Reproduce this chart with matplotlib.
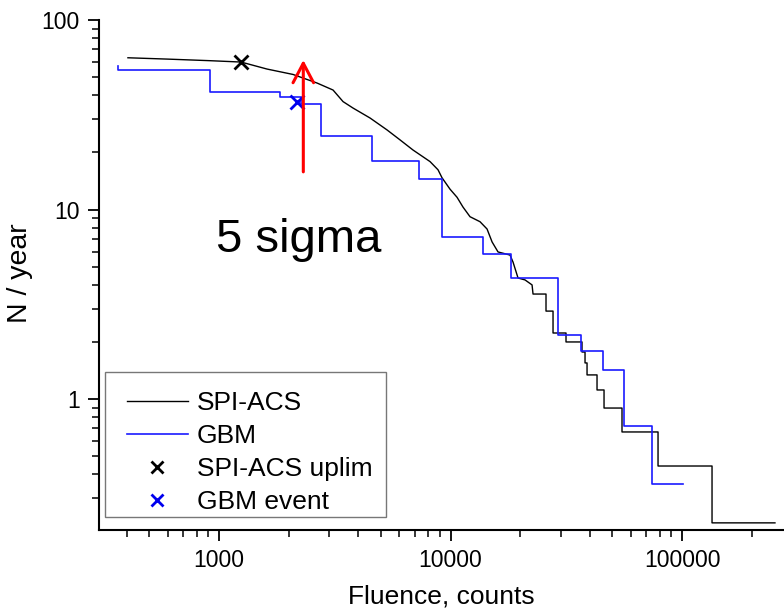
import numpy as np
import matplotlib
matplotlib.use('Agg')
import matplotlib.pyplot as plt
from matplotlib.ticker import FuncFormatter, NullFormatter, LogLocator
from matplotlib.patches import FancyArrowPatch, Rectangle
from matplotlib.lines import Line2D

plt.rcParams['font.family'] = ['Liberation Sans', 'DejaVu Sans']

# SPI-ACS cumulative rate, dense upper part
spi_fluence = [404, 596, 914, 1245, 1612, 2088, 2650, 3108, 3433, 3792, 4490, 5317,
               6051, 6886, 8156, 8831, 9190, 9950, 10670, 11320, 12140, 13410, 14380,
               15120, 16040, 18070, 18620, 19570, 20980, 22500, 22720, 25850]
spi_rate = [63.2, 62.2, 61.0, 60.0, 55.1, 51.6, 46.5, 42.7, 37.1, 34.3, 30.4, 26.3,
            23.3, 20.6, 17.9, 16.2, 14.7, 12.8, 11.6, 10.3, 9.16, 8.62, 7.89,
            6.74, 5.97, 5.75, 5.28, 4.35, 4.25, 4.00, 3.58, 3.58]

# SPI-ACS tail, individual steps
spi_tail_fluence = [25850, 27720, 31540, 36980, 38110, 38880, 42940, 46040, 55050,
                    78780, 134800, 252100]
spi_tail_rate = [2.91, 2.23, 2.00, 1.77, 1.55, 1.34, 1.116, 0.896, 0.670,
                 0.443, 0.222, 0.222]

# GBM cumulative rate (step levels)
gbm_fluence = [366, 366, 914, 1834, 2261, 2750, 4580, 7333, 9162, 13780, 18250,
               29220, 36620, 45720, 55880, 73850, 101000]
gbm_rate = [57.2, 54.5, 41.6, 39.4, 35.9, 24.4, 18.0, 14.4, 7.19, 5.79, 4.33,
            2.18, 1.80, 1.43, 0.716, 0.358, 0.358]

# single points
spi_uplim = (1245, 60.0)
gbm_event = (2172, 37.1)
arrow_x = 2312
arrow_y = (15.8, 61.5)

# build the tail staircase (steps-post) and join it to the dense part
tx = np.repeat(spi_tail_fluence, 2)[1:]
ty = np.repeat(spi_tail_rate, 2)[:-1]
spi_x = np.concatenate([spi_fluence, tx])
spi_y = np.concatenate([spi_rate, ty])

fig = plt.figure(figsize=(7.84, 6.10), dpi=100)
ax = fig.add_axes([0.1263, 0.1311, 0.8737, 0.8361])

ax.plot(spi_x, spi_y, color='black', lw=1.0)
ax.plot(gbm_fluence, gbm_rate, color='#1a1aff', lw=1.2, drawstyle='steps-post')
ax.plot(*spi_uplim, marker='x', color='black', ms=10, mew=2.0, ls='none')
ax.plot(*gbm_event, marker='x', color='#0000ee', ms=10, mew=2.0, ls='none')

arr = FancyArrowPatch((arrow_x, arrow_y[0]), (arrow_x, arrow_y[1]),
                      arrowstyle='->, head_length=0.7, head_width=0.37',
                      mutation_scale=20, color='red', lw=2.2,
                      shrinkA=0, shrinkB=0, zorder=5)
ax.add_patch(arr)

ax.text(2200, 6.9, '5 sigma', fontsize=34, ha='center', va='center')

ax.set_xscale('log')
ax.set_yscale('log')
ax.set_xlim(303, 275800)
ax.set_ylim(0.2035, 100)

for s in ['top', 'right']:
    ax.spines[s].set_visible(False)
for s in ['left', 'bottom']:
    ax.spines[s].set_linewidth(1.5)

fmt = FuncFormatter(lambda v, p: f'{v:g}')
ax.xaxis.set_major_formatter(fmt)
ax.yaxis.set_major_formatter(fmt)
ax.xaxis.set_minor_formatter(NullFormatter())
ax.yaxis.set_minor_formatter(NullFormatter())
ax.xaxis.set_minor_locator(LogLocator(base=10, subs=np.arange(2, 10)))
ax.yaxis.set_minor_locator(LogLocator(base=10, subs=np.arange(2, 10)))
ax.tick_params(which='major', direction='out', length=8, width=1.3, labelsize=16.5, pad=6)
ax.tick_params(which='minor', direction='out', length=5, width=1.1)

ax.set_xlabel('Fluence, counts', fontsize=19, labelpad=9)
ax.set_ylabel('N / year', fontsize=20.5)
ax.yaxis.set_label_coords(-0.097, 0.504)

# legend: entries without frame, box drawn separately
handles = [Line2D([], [], color='black', lw=1.0),
           Line2D([], [], color='#1a1aff', lw=1.2),
           Line2D([], [], color='black', marker='x', ls='none', ms=9, mew=2.0),
           Line2D([], [], color='#0000ee', marker='x', ls='none', ms=9, mew=2.0)]
labels = ['SPI-ACS', 'GBM', 'SPI-ACS uplim', 'GBM event']
ax.legend(handles, labels, loc='upper left', bbox_to_anchor=(0.0404, 0.2725),
          borderaxespad=0, borderpad=0, fontsize=19, frameon=False,
          handlelength=2.33, handletextpad=0.32, labelspacing=0.34)
ax.add_patch(Rectangle((0.00876, 0.0261), 0.4098, 0.2843, transform=ax.transAxes,
                       fill=False, edgecolor='#777777', lw=1.0, zorder=6))

fig.savefig('out.png', dpi=100)
